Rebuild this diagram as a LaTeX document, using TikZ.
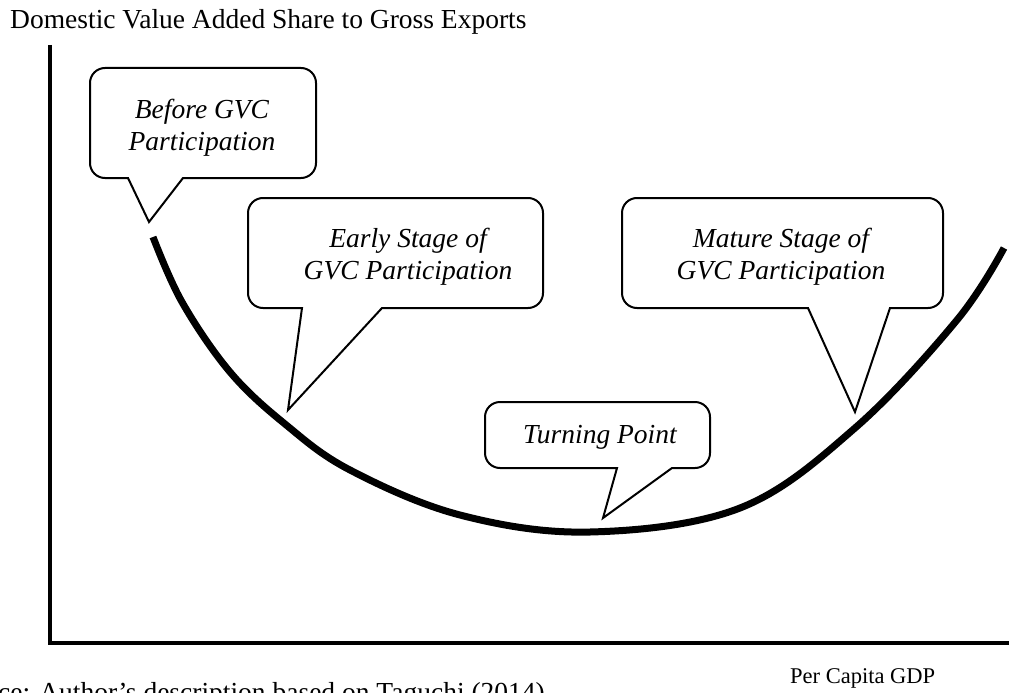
\documentclass[tikz,border=0pt]{standalone}
\usepackage{fontspec}
\setmainfont{Liberation Serif}
\newcommand\callbox[8]{% L T R B b1 b2 tipx tipy
  \draw[callout] (#5,#4) -- ({#1+15},#4) arc[start angle=90,end angle=180,radius=15]
    -- (#1,{#2+15}) arc[start angle=180,end angle=270,radius=15]
    -- ({#3-15},#2) arc[start angle=270,end angle=360,radius=15]
    -- (#3,{#4-15}) arc[start angle=0,end angle=90,radius=15]
    -- (#6,#4) -- (#7,#8) -- cycle;}
\begin{document}
\begin{tikzpicture}[x=1pt,y=-1pt,
  axisline/.style={line width=4.5pt,line join=miter},
  ucurve/.style={line width=7pt,line cap=butt},
  callout/.style={line width=2pt,fill=white,line join=miter},
  calltext/.style={inner sep=0pt,align=center,font=\fontsize{27.5}{32}\selectfont\itshape},
  plaintext/.style={inner sep=0pt,font=\fontsize{27.5}{32}\selectfont},
  smalltext/.style={inner sep=0pt,font=\fontsize{22.5}{27}\selectfont}]
\useasboundingbox (0,0) rectangle (1009,693);
% axes
\coordinate (ytop) at (50,45);
\coordinate (origin) at (50,643);
\coordinate (xend) at (1012,643);
\draw[axisline] (ytop) -- (origin) -- (xend);
% labels
\node[plaintext,anchor=base west] (title) at (10,29) {Domestic Value Added Share to Gross Exports};
\node[smalltext,anchor=base west] (xlab) at (790,683) {Per Capita GDP};
\node[plaintext,anchor=base west] (src) at (-54,701) {Source: Author's description based on Taguchi (2014).};
% curve
\draw[ucurve] plot[smooth,tension=0.6] coordinates {(153,237) (182,302) (230,372) (285,424) (350,470) (460,515) (590,532) (740,508) (855,428) (957,320) (1004,248)};
% callouts
\callbox{90}{68}{316}{178}{128}{183}{149}{222}
\node[calltext] (before) at (202,128) {Before GVC\\Participation};
\callbox{248}{198}{543}{308}{302}{382}{288}{410}
\node[calltext] (early) at (408,257) {Early Stage of\\GVC Participation};
\callbox{622}{198}{943}{308}{808}{890}{855}{412}
\node[calltext] (mature) at (781,257) {Mature Stage of\\GVC Participation};
\callbox{485}{402}{710}{468}{617}{672}{603}{518}
\node[calltext,anchor=base] (turning) at (600,443) {Turning Point};
\end{tikzpicture}
\end{document}
